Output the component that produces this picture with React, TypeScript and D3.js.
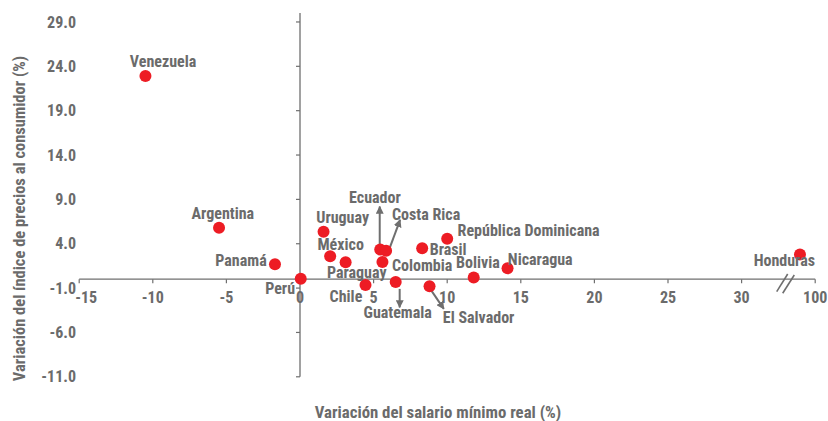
import React from "react";
import * as d3 from "d3";

const countries = ["Venezuela", "Argentina", "Panamá", "Perú", "Uruguay", "México", "Paraguay", "Chile", "Ecuador", "Costa Rica", "Colombia", "Guatemala", "Brasil", "El Salvador", "República Dominicana", "Bolivia", "Nicaragua", "Honduras"];
const salaryChange = [-10.5, -5.5, -1.7, 0.05, 1.6, 2.05, 3.1, 4.45, 5.45, 5.85, 5.6, 6.5, 8.3, 8.8, 10.0, 11.8, 14.1, 85.5];
const cpiChange = [22.9, 5.8, 1.7, 0.05, 5.35, 2.6, 1.9, -0.65, 3.35, 3.2, 1.95, -0.3, 3.5, -0.8, 4.55, 0.2, 1.25, 2.8];

const xTicks = [-15, -10, -5, 0, 5, 10, 15, 20, 25, 30, 100];
const yTicks = [-11, -6, -1, 4, 9, 14, 19, 24, 29];

// label placement (pixel offsets from the dot, anchor)
const labelStyle: Record<string, [string, number, number]> = {
  "Venezuela": ["middle", 17.6, -15],
  "Argentina": ["middle", 3.8, -14],
  "Panamá": ["end", -8.3, -3.7],
  "Perú": ["end", -5.7, 10],
  "Uruguay": ["start", -7.3, -14],
  "México": ["start", -12.7, -11.7],
  "Paraguay": ["start", -18.7, 9.7],
  "Chile": ["end", -3.2, 11.7],
  "Ecuador": ["middle", -5.3, -52],
  "Costa Rica": ["start", 5.8, -36],
  "Colombia": ["start", 9.5, 3.3],
  "Guatemala": ["middle", 2, 31],
  "Brasil": ["start", 7.5, 1.7],
  "El Salvador": ["start", 13.3, 31],
  "República Dominicana": ["start", 10.4, -8.3],
  "Bolivia": ["start", -17.6, -15],
  "Nicaragua": ["start", 0.3, -8.3],
  "Honduras": ["end", 15, 6.4],
};

// arrow annotations: [startDx, startDy, tipDx, tipDy] relative to the dot
const arrowStyle: Record<string, [number, number, number, number]> = {
  "Ecuador": [-0.5, -4, -0.5, -43],
  "Costa Rica": [2.5, 0, 14, -31],
  "Guatemala": [4, 7, 4, 25.5],
  "El Salvador": [0.3, 2, 14.3, 22.5],
};

const W = 828, H = 421;
const FONT = "'Liberation Sans Narrow', 'Roboto Condensed', 'DejaVu Sans Condensed', 'Arial Narrow', sans-serif";
const GRAY = "#6b6b6b";
const AXIS = "#6f6f6f";
const RED = "#ed1c24";

export default function App() {
  const x = d3.scaleLinear().domain([-15, 30, 100]).range([79.2, 741.6, 815.2]);
  const y = d3.scaleLinear().domain([-11, 30]).range([376.8, 13.1]);
  const x0 = x(0);
  const y0 = y(0);
  const capHalf = 5.6;

  return (
    <svg width={W} height={H} style={{ position: "absolute", left: 0, top: 0, background: "#fff" }} fontFamily={FONT} fontWeight="bold">
      <defs>
        <marker id="ah" viewBox="0 0 10 10" refX="9" refY="5" markerWidth="4" markerHeight="4" orient="auto" markerUnits="strokeWidth">
          <path d="M0,0 L10,5 L0,10 Z" fill={AXIS} />
        </marker>
      </defs>

      {/* y axis */}
      <line x1={x0} x2={x0} y1={y(30)} y2={y(-11)} stroke={AXIS} strokeWidth={1.3} />
      {yTicks.map((t) => (
        <g key={"y" + t}>
          <line x1={x0 - 4} x2={x0} y1={y(t)} y2={y(t)} stroke={AXIS} strokeWidth={1.2} />
          <text x={76} y={y(t) + capHalf} textAnchor="end" fontSize={16} fill={GRAY}>{t.toFixed(1)}</text>
        </g>
      ))}

      {/* x axis */}
      <line x1={x(-15)} x2={x(100)} y1={y0} y2={y0} stroke={AXIS} strokeWidth={1.3} />
      {xTicks.map((t) => (
        <g key={"x" + t}>
          <line x1={x(t)} x2={x(t)} y1={y0} y2={y0 + 4} stroke={AXIS} strokeWidth={1.2} />
          <text x={x(t) + (t === -15 ? 7 : 0)} y={y0 + 24} textAnchor="middle" fontSize={16} fill={GRAY}>{t}</text>
        </g>
      ))}
      {/* axis break */}
      <line x1={776.7} y1={291.7} x2={787.7} y2={274} stroke={AXIS} strokeWidth={1.6} />
      <line x1={782.7} y1={293.3} x2={794.3} y2={275} stroke={AXIS} strokeWidth={1.6} />

      {/* axis titles */}
      <text x={438} y={417.5} textAnchor="middle" fontSize={16.8} fill={GRAY}>Variación del salario mínimo real (%)</text>
      <text transform={`translate(25,218.5) rotate(-90)`} textAnchor="middle" fontSize={16.5} fill={GRAY}>Variación del índice de precios al consumidor (%)</text>

      {/* arrows */}
      {countries.map((c, i) => {
        const a = arrowStyle[c];
        if (!a) return null;
        const px = x(salaryChange[i]);
        const py = y(cpiChange[i]);
        return (
          <line key={"a" + c} x1={px + a[0]} y1={py + a[1]} x2={px + a[2]} y2={py + a[3]} stroke={AXIS} strokeWidth={2} markerEnd="url(#ah)" />
        );
      })}

      {/* points */}
      {countries.map((c, i) => (
        <circle key={"p" + c} cx={x(salaryChange[i])} cy={y(cpiChange[i])} r={6} fill={RED} />
      ))}

      {/* labels */}
      {countries.map((c, i) => {
        const [anchor, dx, dy] = labelStyle[c];
        return (
          <text key={"l" + c} x={x(salaryChange[i]) + dx} y={y(cpiChange[i]) + dy + capHalf} textAnchor={anchor as any} fontSize={16} fill={GRAY}>{c}</text>
        );
      })}
    </svg>
  );
}
